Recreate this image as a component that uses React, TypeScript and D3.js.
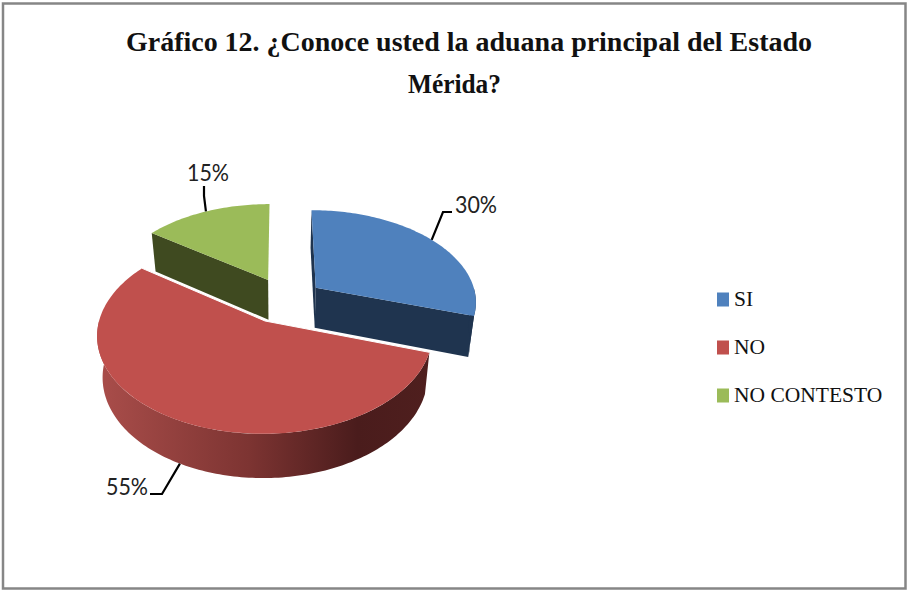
import React from "react";
import * as d3 from "d3";

const categories = ["SI", "NO", "NO CONTESTO"];
const values = [30, 55, 15];
const topColors = ["#4f81bd", "#c0504d", "#9bbb59"];
const wallColors = ["#1f344f", "#7a3230", "#3f4a20"];
const titleLines = ["Gráfico 12. ¿Conoce usted la aduana principal del Estado", "Mérida?"];

// how far each slice is pulled out of the centre, in radius units
const explodeX = [0.226, -0.09, -0.076];
const explodeY = [-0.36, 0, -0.45];

const width = 907;
const height = 590;

// perspective of the tilted disc
const cx = 280;
const cy = 321;
const radiusX = 166;
const radiusY = 97;
const persp = 0.14;
const depth = 41;
const shrink = 0.03;

const project = (x: number, y: number, z: number): [number, number] => {
  const w = 1 / (1 - persp * y);
  const s = w * (1 - shrink * z);
  return [cx + radiusX * x * s, cy + radiusY * y * s + depth * z * w];
};

const pie = d3.pie<number>().sort(null).startAngle(0).endAngle(2 * Math.PI);
const slices = pie(values);
const line = d3.line();

// point on the rim (or apex when r = 0) of slice i
const rimPoint = (i: number, angle: number, r: number, z: number) =>
  project(explodeX[i] + r * Math.sin(angle), explodeY[i] - r * Math.cos(angle), z);

const arcPoints = (i: number, a0: number, a1: number, z: number) => {
  const n = Math.ceil(Math.abs(a1 - a0) / 0.02);
  return d3.range(n + 1).map((k) => rimPoint(i, a0 + ((a1 - a0) * k) / n, 1, z));
};

const topPath = (i: number) => {
  const s = slices[i];
  return line([rimPoint(i, 0, 0, 0), ...arcPoints(i, s.startAngle, s.endAngle, 0)]) + "Z";
};

// flat cut face standing under one radial edge
const facePath = (i: number, angle: number) =>
  line([
    rimPoint(i, 0, 0, 0),
    rimPoint(i, angle, 1, 0),
    rimPoint(i, angle, 1, 1),
    rimPoint(i, 0, 0, 1),
  ]) + "Z";

// outer curved wall between two angles
const wallPath = (i: number, a0: number, a1: number) =>
  line([...arcPoints(i, a0, a1, 0), ...arcPoints(i, a1, a0, 1)]) + "Z";

// the two straight edges of a slice, for the thin white seam
const seamPath = (i: number) =>
  line([
    rimPoint(i, slices[i].startAngle, 1, 0),
    rimPoint(i, 0, 0, 0),
    rimPoint(i, slices[i].endAngle, 1, 0),
  ]) ?? "";

const legendY = d3.scalePoint<string>().domain(categories).range([299.5, 395.5]);

// leader lines start on the slice rim at its middle angle
const midAngle = (i: number) => (slices[i].startAngle + slices[i].endAngle) / 2;
const labelLeaders = [
  { i: 0, z: 0, bend: [443, 212], end: [452, 212], tx: 455, ty: 213 },
  { i: 1, z: 1, bend: [162, 494], end: [150, 494], tx: 106, ty: 495 },
  { i: 2, z: 0, bend: [204, 196], end: [204, 186], tx: 187, ty: 181 },
];

export default function App() {
  return (
    <svg
      width={width}
      height={height}
      style={{ position: "absolute", left: 0, top: 0, background: "#fff" }}
    >
      <defs>
        <linearGradient id="redWall" gradientUnits="userSpaceOnUse" x1={100} x2={430} y1={0} y2={0}>
          <stop offset="0" stopColor="#a94d4a" />
          <stop offset="0.45" stopColor="#7d3432" />
          <stop offset="0.78" stopColor="#4a1c1c" />
          <stop offset="1" stopColor="#4f1f1e" />
        </linearGradient>
      </defs>
      <rect x={3} y={3.5} width={902.5} height={585} fill="#fff" stroke="#868686" strokeWidth={2.5} />

      {titleLines.map((t, i) => (
        <text
          key={t}
          x={i === 0 ? 126 : 408}
          y={i === 0 ? 51 : 93}
          textLength={i === 0 ? 686 : 93}
          lengthAdjust="spacingAndGlyphs"
          fontFamily="'Liberation Serif', serif"
          fontWeight="bold"
          fontSize={28}
          fill="#111"
        >
          {t}
        </text>
      ))}

      {/* green slice */}
      <path d={facePath(2, slices[2].startAngle)} fill={wallColors[2]} />
      <path d={topPath(2)} fill={topColors[2]} />

      {/* blue slice */}
      <path d={facePath(0, slices[0].endAngle)} fill={wallColors[0]} />
      <path d={facePath(0, slices[0].startAngle)} fill={wallColors[0]} />
      <path d={wallPath(0, Math.PI / 2, slices[0].endAngle)} fill={wallColors[0]} />
      <path d={topPath(0)} fill={topColors[0]} />

      {/* red slice */}
      <path d={wallPath(1, slices[1].startAngle, 1.5 * Math.PI)} fill="url(#redWall)" />
      <path d={topPath(1)} fill={topColors[1]} />
      <path d={seamPath(1)} fill="none" stroke="#fff" strokeWidth={1} />

      {labelLeaders.map((d) => {
        const start = rimPoint(d.i, midAngle(d.i), 1, d.z);
        return (
          <g key={d.i}>
            <path
              d={line([start, d.bend as [number, number], d.end as [number, number]]) ?? ""}
              fill="none"
              stroke="#000"
              strokeWidth={2.2}
            />
            <text
              x={d.tx}
              y={d.ty}
              textLength={42}
              lengthAdjust="spacingAndGlyphs"
              fontFamily="Lato, sans-serif"
              fontSize={24}
              fill="#222"
            >
              {`${values[d.i]}%`}
            </text>
          </g>
        );
      })}

      {categories.map((c, i) => (
        <g key={c}>
          <rect x={717} y={(legendY(c) ?? 0) - 7} width={12} height={14} fill={topColors[i]} />
          <text
            x={734}
            y={(legendY(c) ?? 0) + 6}
            fontFamily="'Liberation Serif', serif"
            fontSize={21.5}
            fill="#111"
          >
            {c}
          </text>
        </g>
      ))}
    </svg>
  );
}
